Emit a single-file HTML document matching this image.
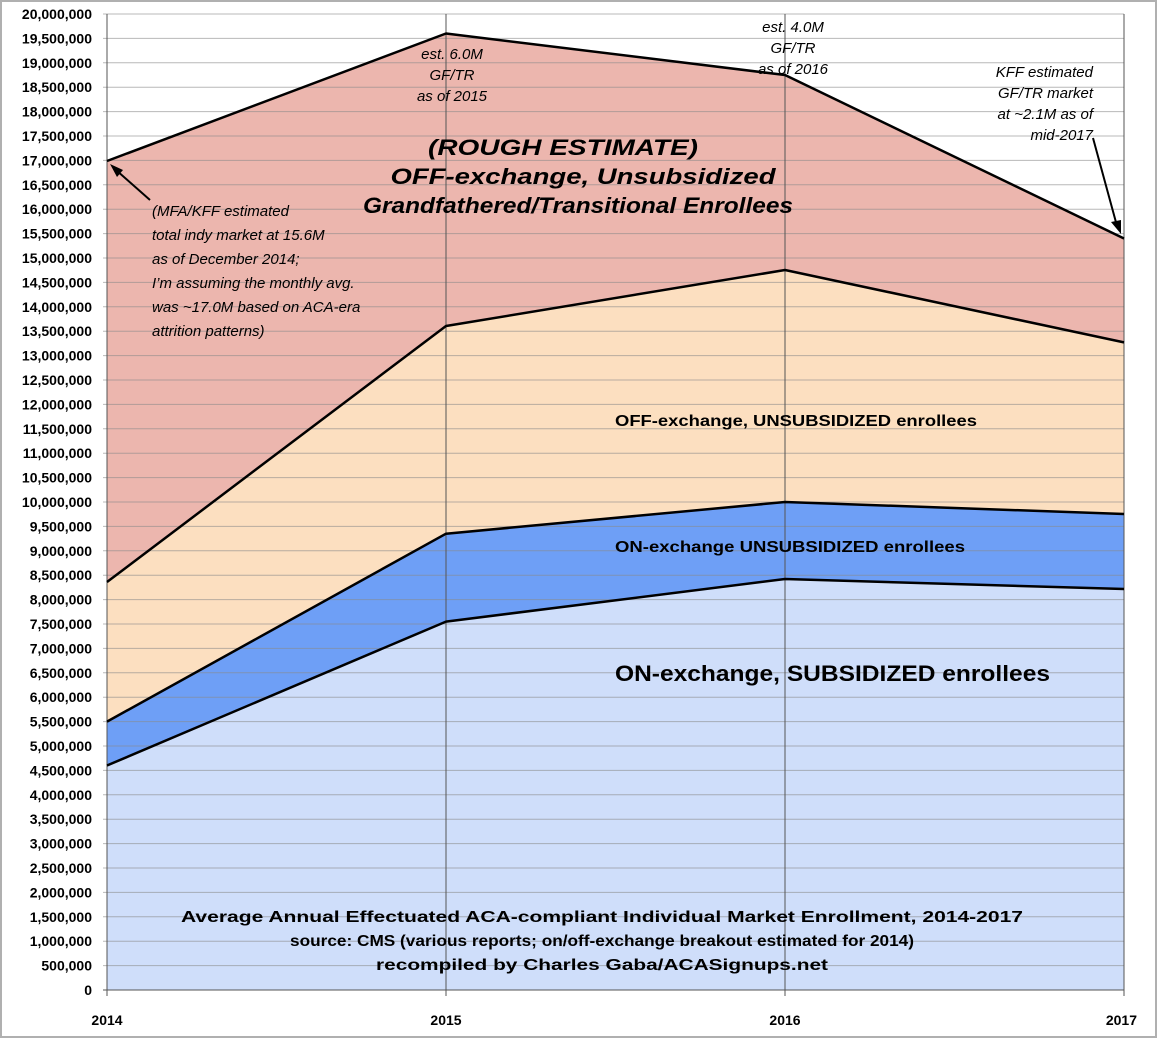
<!DOCTYPE html>
<html><head><style>
html,body{margin:0;padding:0;background:#fff}
svg{display:block}
text{font-family:"Liberation Sans",sans-serif}
</style></head><body>
<svg width="1157" height="1038" viewBox="0 0 1157 1038" xmlns="http://www.w3.org/2000/svg">
<rect x="1" y="1" width="1155" height="1036" fill="#fff" stroke="#b0b0b0" stroke-width="2"/>
<!-- areas -->
<polygon points="107,161 446,33.5 785,75 1124,238.5 1124,342.4 785,270 446,326 107,582" fill="#ecb6ae"/>
<polygon points="107,582 446,326 785,270 1124,342.4 1124,514 785,502 446,533.7 107,721.6" fill="#fcdfc0"/>
<polygon points="107,721.6 446,533.7 785,502 1124,514 1124,589 785,579 446,621.6 107,765.5" fill="#6e9ff6"/>
<polygon points="107,765.5 446,621.6 785,579 1124,589 1124,990 107,990" fill="#cfdefa"/>
<!-- grid -->
<g id="grid" stroke="#8a8a8a" stroke-width="1" opacity="0.6"></g>
<g stroke="#555" stroke-width="1">
<line x1="446" y1="14" x2="446" y2="996"/><line x1="785" y1="14" x2="785" y2="996"/><line x1="1124" y1="14" x2="1124" y2="996"/>
<line x1="107" y1="14" x2="107" y2="996"/>
<line x1="103" y1="990" x2="1124" y2="990"/>
</g>
<g id="ylab" font-size="14" font-weight="bold" fill="#000" text-anchor="end"></g>
<!-- lines -->
<g fill="none" stroke="#000" stroke-width="2.5" stroke-linejoin="round">
<polyline points="107,161 446,33.5 785,75 1124,238.5"/>
<polyline points="107,582 446,326 785,270 1124,342.4"/>
<polyline points="107,721.6 446,533.7 785,502 1124,514"/>
<polyline points="107,765.5 446,621.6 785,579 1124,589"/>
</g>
<!-- arrows -->
<g stroke="#000" stroke-width="2">
<line x1="150" y1="200" x2="116" y2="170"/>
<line x1="1093" y1="138" x2="1117" y2="226"/>
</g>
<polygon points="110,164 123,170 117,177" fill="#000"/>
<polygon points="1121,234 1111,222 1121,220" fill="#000"/>
<!-- x labels -->
<g font-size="14" font-weight="bold" text-anchor="middle">
<text x="107" y="1025">2014</text><text x="446" y="1025">2015</text><text x="785" y="1025">2016</text><text x="1137" y="1025" text-anchor="end">2017</text>
</g>
<!-- annotations -->
<g font-size="15" font-style="italic" fill="#000" text-anchor="middle">
<text x="452" y="59">est. 6.0M</text><text x="452" y="80">GF/TR</text><text x="452" y="101">as of 2015</text>
<text x="793" y="32">est. 4.0M</text><text x="793" y="53">GF/TR</text><text x="793" y="74">as of 2016</text>
</g>
<g font-size="15" font-style="italic" fill="#000" text-anchor="end">
<text x="1093" y="77">KFF estimated</text><text x="1093" y="98">GF/TR market</text><text x="1093" y="119">at ~2.1M as of</text><text x="1093" y="140">mid-2017</text>
</g>
<g font-size="15" font-style="italic" fill="#000">
<text x="152" y="216">(MFA/KFF estimated</text><text x="152" y="240">total indy market at 15.6M</text>
<text x="152" y="264">as of December 2014;</text><text x="152" y="288">I’m assuming the monthly avg.</text>
<text x="152" y="312">was ~17.0M based on ACA-era</text><text x="152" y="336">attrition patterns)</text>
</g>
<g font-size="22" font-style="italic" font-weight="bold" fill="#000" text-anchor="middle">
<text x="563" y="155" textLength="270" lengthAdjust="spacingAndGlyphs">(ROUGH ESTIMATE)</text>
<text x="583" y="184" textLength="385" lengthAdjust="spacingAndGlyphs">OFF-exchange, Unsubsidized</text>
<text x="578" y="213" textLength="430" lengthAdjust="spacingAndGlyphs">Grandfathered/Transitional Enrollees</text>
</g>
<g font-weight="bold" fill="#000">
<text x="615" y="426" font-size="16" textLength="362" lengthAdjust="spacingAndGlyphs">OFF-exchange, UNSUBSIDIZED enrollees</text>
<text x="615" y="552" font-size="16" textLength="350" lengthAdjust="spacingAndGlyphs">ON-exchange UNSUBSIDIZED enrollees</text>
<text x="615" y="681" font-size="22" textLength="435" lengthAdjust="spacingAndGlyphs">ON-exchange, SUBSIDIZED enrollees</text>
</g>
<g font-size="16" font-weight="bold" fill="#000" text-anchor="middle">
<text x="602" y="922" textLength="842" lengthAdjust="spacingAndGlyphs">Average Annual Effectuated ACA-compliant Individual Market Enrollment, 2014-2017</text>
<text x="602" y="946" textLength="624" lengthAdjust="spacingAndGlyphs">source: CMS (various reports; on/off-exchange breakout estimated for 2014)</text>
<text x="602" y="970" textLength="452" lengthAdjust="spacingAndGlyphs">recompiled by Charles Gaba/ACASignups.net</text>
</g>
<script>
var g=document.getElementById('grid'),l=document.getElementById('ylab'),ns='http://www.w3.org/2000/svg';
for(var i=0;i<=40;i++){var y=990-i*24.4;
if(i>0){var ln=document.createElementNS(ns,'line');ln.setAttribute('x1',103);ln.setAttribute('x2',1124);ln.setAttribute('y1',y);ln.setAttribute('y2',y);g.appendChild(ln);}
var t=document.createElementNS(ns,'text');t.setAttribute('x',92);t.setAttribute('y',y+5);t.textContent=(i*500000).toLocaleString('en-US');l.appendChild(t);}
</script>
</svg>
</body></html>
